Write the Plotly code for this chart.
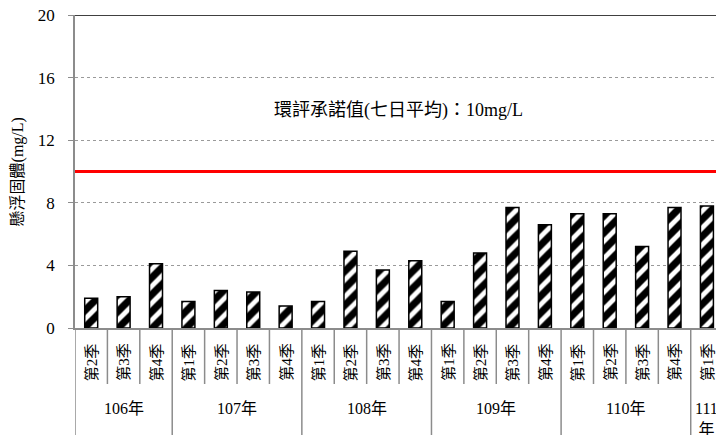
import plotly.graph_objects as go

# Quarterly suspended-solids readings, grouped by ROC year
years = ["106年", "107年", "108年", "109年", "110年", "111<br>年"]
quarters_per_year = [
    ["第2季", "第3季", "第4季"],
    ["第1季", "第2季", "第3季", "第4季"],
    ["第1季", "第2季", "第3季", "第4季"],
    ["第1季", "第2季", "第3季", "第4季"],
    ["第1季", "第2季", "第3季", "第4季"],
    ["第1季"],
]
values = [1.9, 2.0, 4.1,
          1.7, 2.4, 2.3, 1.4,
          1.7, 4.9, 3.7, 4.3,
          1.7, 4.8, 7.7, 6.6,
          7.3, 7.3, 5.2, 7.7,
          7.8]
limit_value = 10
limit_text = "環評承諾值(七日平均)：10mg/L"
y_title = "懸浮固體(mg/L)"
y_ticks = [0, 4, 8, 12, 16, 20]

FONT = "Liberation Serif, 'Times New Roman', 'Noto Sans CJK TC', serif"
AXIS_GRAY = "#8c8c8c"

quarter_labels = [q for qs in quarters_per_year for q in qs]
xs = list(range(len(quarter_labels)))

fig = go.Figure()
fig.add_trace(go.Bar(
    x=xs, y=values, width=0.4,
    marker=dict(
        color="white",
        line=dict(color="black", width=1.5),
        pattern=dict(shape="/", fgcolor="#000000", bgcolor="white",
                     fgopacity=1, size=12, solidity=0.6),
    ),
    showlegend=False,
))

shapes = []
annotations = []

# limit line
shapes.append(dict(type="line", xref="paper", yref="y", x0=0, x1=1,
                   y0=limit_value, y1=limit_value,
                   line=dict(color="#ff0000", width=3)))
# top border
shapes.append(dict(type="line", xref="paper", yref="y", x0=0, x1=1,
                   y0=20, y1=20, line=dict(color="black", width=1.5)))

# category labels and separators below the axis
idx = 0
group_bounds = [-0.5]
for year, qs in zip(years, quarters_per_year):
    start = idx
    for q in qs:
        annotations.append(dict(x=idx, y=-0.109, xref="x", yref="paper",
                                xanchor="center", yanchor="middle",
                                text=q, textangle=-90, showarrow=False,
                                font=dict(family=FONT, size=15, color="black")))
        if idx != start:
            shapes.append(dict(type="line", xref="x", yref="paper",
                               x0=idx - 0.5, x1=idx - 0.5, y0=0, y1=-0.179,
                               line=dict(color=AXIS_GRAY, width=1.5)))
        idx += 1
    group_bounds.append(idx - 0.5)
    annotations.append(dict(x=(start + idx - 1) / 2, y=-0.225, xref="x",
                            yref="paper", xanchor="center", yanchor="top",
                            text=year, showarrow=False,
                            font=dict(family=FONT, size=16, color="black")))
for gb in group_bounds:
    shapes.append(dict(type="line", xref="x", yref="paper",
                       x0=gb, x1=gb, y0=0, y1=-0.36,
                       line=dict(color=AXIS_GRAY, width=1.5)))

annotations.append(dict(x=0.504, y=0.696, xref="paper", yref="paper",
                        xanchor="center", yanchor="middle",
                        text=limit_text, showarrow=False,
                        font=dict(family=FONT, size=18, color="black")))
annotations.append(dict(x=-0.089, y=0.5, xref="paper", yref="paper",
                        xanchor="center", yanchor="middle",
                        text=y_title, textangle=-90, showarrow=False,
                        font=dict(family=FONT, size=16, color="black")))

fig.update_layout(
    width=716, height=435,
    margin=dict(l=75, r=0, t=15, b=107),
    paper_bgcolor="white", plot_bgcolor="white",
    shapes=shapes, annotations=annotations,
    xaxis=dict(range=[-0.5, 19.28], showticklabels=False, ticks="",
               showgrid=False, zeroline=False, showline=True,
               linecolor=AXIS_GRAY, linewidth=1.5, fixedrange=True),
    yaxis=dict(range=[0, 20], tickvals=y_ticks, ticks="outside", ticklen=5,
               tickcolor=AXIS_GRAY, showline=True, linecolor=AXIS_GRAY,
               linewidth=1.5, showgrid=True, gridcolor="#9a9a9a",
               griddash="dot", gridwidth=1, zeroline=False,
               ticklabelstandoff=10,
               tickfont=dict(family=FONT, size=17, color="black")),
    bargap=0.6,
)

fig.write_html("out.html")
